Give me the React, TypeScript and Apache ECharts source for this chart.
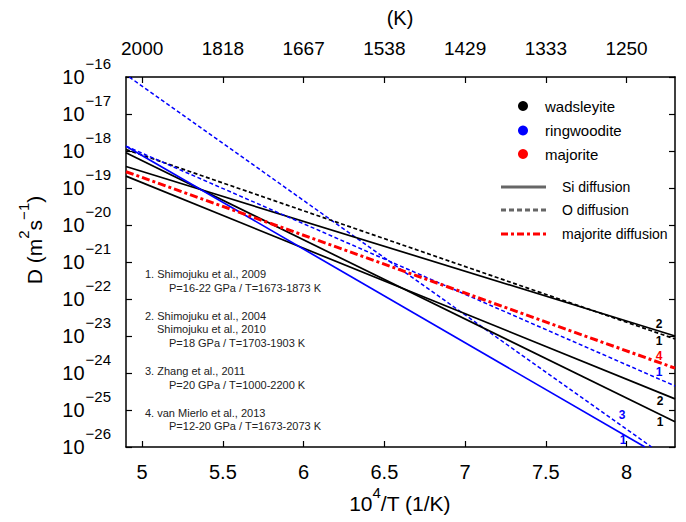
import React, { useEffect, useRef } from "react";
import * as echarts from "echarts";

// x = 10^4/T (1/K); y = log10 D (m^2 s^-1)
const xTicks = [5, 5.5, 6, 6.5, 7, 7.5, 8];
const tempLabels = ["2000", "1818", "1667", "1538", "1429", "1333", "1250"];
const yLabelsEven = [-26, -24, -22, -20, -18, -16];
const yLabelsOdd = [-25, -23, -21, -19, -17];

// each line: [x, log10 D] endpoints
const wadsleyiteO1 = [[4.9, -17.96], [8.3, -23.08]];
const wadsleyiteSi2a = [[4.9, -18.42], [8.3, -23.0]];
const wadsleyiteSi2b = [[4.9, -18.68], [8.3, -24.7]];
const wadsleyiteSi1 = [[4.9, -18.05], [8.3, -25.32]];
const majorite4 = [[4.9, -18.56], [8.3, -23.87]];
const ringwooditeO1 = [[4.9, -17.87], [8.3, -24.35]];
const ringwooditeSi1 = [[4.9, -17.87], [8.114, -26]];
const ringwooditeO3 = [[4.92, -16.0], [8.155, -26]];

const refs = [
  ["1. Shimojuku et al., 2009", 145, 274],
  ["P=16-22 GPa / T=1673-1873 K", 169, 288],
  ["2. Shimojuku et al., 2004", 145, 316],
  ["Shimojuku et al., 2010", 157, 329],
  ["P=18 GPa / T=1703-1903 K", 169, 343],
  ["3. Zhang et al., 2011", 145, 371],
  ["P=20 GPa / T=1000-2200 K", 169, 385],
  ["4. van Mierlo et al., 2013", 145, 413],
  ["P=12-20 GPa / T=1673-2073 K", 169, 426],
];

const lineLabels = [
  ["2", "#000", 659, 324],
  ["1", "#000", 659, 341],
  ["4", "#ff0000", 659, 356],
  ["1", "#0000ff", 659, 372],
  ["2", "#000", 660, 401],
  ["1", "#000", 660, 422],
  ["3", "#0000ff", 622, 415],
  ["1", "#0000ff", 623, 440],
];

const FONT = "Liberation Sans";
const BLUE = "#0000ff";
const RED = "#ff0000";

const measureCtx = typeof document !== "undefined" ? document.createElement("canvas").getContext("2d") : null;
function measure(text: string, size: number) {
  if (!measureCtx) return text.length * size * 0.55;
  measureCtx.font = `${size}px "${FONT}"`;
  return measureCtx.measureText(text).width;
}

// pieces: [text, isSuperscript]
function titleParts(pieces: [string, boolean][], big: number, small: number, raise: number) {
  const widths = pieces.map(([t, sup]) => measure(t, sup ? small : big));
  const total = widths.reduce((a, b) => a + b, 0);
  let x = -total / 2;
  return pieces.map(([t, sup], i) => {
    const el = {
      type: "text",
      x,
      y: sup ? -raise : 0,
      style: { text: t, font: `${sup ? small : big}px "${FONT}"`, fill: "#000", verticalAlign: "middle", align: "left" },
    };
    x += widths[i];
    return el;
  });
}

export default function App() {
  const ref = useRef<HTMLDivElement>(null);
  useEffect(() => {
    const chart = echarts.init(ref.current!, null, { renderer: "svg" });
    const mkLine = (name: string, data: number[][], color: string, type: any, width: number) => ({
      name,
      type: "line",
      data,
      symbol: "none",
      clip: true,
      lineStyle: { color, type, width },
      xAxisIndex: 0,
      yAxisIndex: 0,
    });
    const tickColor = "#000";
    const baseAxis = {
      axisLine: { show: true, onZero: false, lineStyle: { color: tickColor, width: 1.5 } },
      axisTick: { show: true, inside: true, length: 6, lineStyle: { color: tickColor, width: 1.2 } },
      splitLine: { show: false },
    };
    const yLabelBase = {
      margin: 15,
      formatter: (v: number) => `{b|10}{s|−${Math.abs(v)}}`,
      rich: {
        b: { fontSize: 20, fontFamily: FONT, color: "#000", verticalAlign: "middle", lineHeight: 22 },
        s: { fontSize: 15, fontFamily: FONT, color: "#000", verticalAlign: "middle", lineHeight: 16, padding: [0, 0, 28, 1] },
      },
    };
    const option: any = {
      animation: false,
      backgroundColor: "#fff",
      grid: { left: 126, right: 11, top: 77, bottom: 75, containLabel: false },
      xAxis: [
        {
          type: "value",
          position: "bottom",
          min: 4.9,
          max: 8.3,
          ...baseAxis,
          axisTick: { ...baseAxis.axisTick, customValues: xTicks },
          axisLabel: {
            customValues: xTicks,
            fontSize: 20,
            fontFamily: FONT,
            color: "#000",
            margin: 15,
            formatter: (v: number) => String(v),
          },
        },
        {
          type: "value",
          position: "top",
          min: 4.9,
          max: 8.3,
          ...baseAxis,
          axisTick: { ...baseAxis.axisTick, customValues: xTicks },
          axisLabel: {
            customValues: xTicks,
            fontSize: 19,
            fontFamily: FONT,
            color: "#000",
            margin: 19,
            formatter: (v: number) => {
              const i = xTicks.findIndex((t) => Math.abs(t - v) < 1e-6);
              return i >= 0 ? tempLabels[i] : "";
            },
          },
        },
      ],
      yAxis: [
        {
          type: "value",
          position: "left",
          offset: 0,
          min: -26,
          max: -16,
          interval: 1,
          ...baseAxis,
          axisLabel: { ...yLabelBase, customValues: yLabelsEven },
        },
        {
          type: "value",
          position: "right",
          min: -26,
          max: -16,
          interval: 1,
          ...baseAxis,
          axisLabel: { show: false },
        },
        {
          type: "value",
          position: "left",
          offset: 0,
          min: -26,
          max: -16,
          interval: 1,
          axisLine: { show: false },
          axisTick: { show: false },
          splitLine: { show: false },
          axisLabel: { ...yLabelBase, customValues: yLabelsOdd },
        },
      ],
      series: [
        mkLine("ringwoodite O 3", ringwooditeO3, BLUE, [4, 2.5], 1.5),
        mkLine("wadsleyite O 1", wadsleyiteO1, "#000", [4, 2.5], 1.7),
        mkLine("wadsleyite Si 2a", wadsleyiteSi2a, "#000", "solid", 1.7),
        mkLine("wadsleyite Si 2b", wadsleyiteSi2b, "#000", "solid", 1.7),
        mkLine("wadsleyite Si 1", wadsleyiteSi1, "#000", "solid", 1.7),
        mkLine("ringwoodite O 1", ringwooditeO1, BLUE, [4, 2.5], 1.5),
        mkLine("ringwoodite Si 1", ringwooditeSi1, BLUE, "solid", 1.7),
        mkLine("majorite 4", majorite4, RED, [8, 3, 3, 3], 3),
      ],
      graphic: [
        // axis titles
        { type: "text", x: 400, y: 18, style: { text: "(K)", font: `20px "${FONT}"`, fill: "#000", align: "center", verticalAlign: "middle" } },
        {
          type: "group",
          x: 400,
          y: 503,
          children: titleParts([["10", false], ["4", true], ["/T (1/K)", false]], 21, 15, 11),
        },
        {
          type: "group",
          x: 34,
          y: 240,
          rotation: Math.PI / 2,
          children: titleParts([["D (m", false], ["2", true], ["s", false], ["−1", true], [")", false]], 21, 15, 11),
        },
        // legend
        { type: "circle", shape: { cx: 523, cy: 106, r: 5 }, style: { fill: "#000" } },
        { type: "circle", shape: { cx: 523, cy: 130.5, r: 5 }, style: { fill: BLUE } },
        { type: "circle", shape: { cx: 523, cy: 154, r: 5 }, style: { fill: RED } },
        { type: "text", x: 545, y: 106, style: { text: "wadsleyite", font: `15px "${FONT}"`, fill: "#000", verticalAlign: "middle" } },
        { type: "text", x: 545, y: 130.5, style: { text: "ringwoodite", font: `15px "${FONT}"`, fill: "#000", verticalAlign: "middle" } },
        { type: "text", x: 545, y: 154, style: { text: "majorite", font: `15px "${FONT}"`, fill: "#000", verticalAlign: "middle" } },
        { type: "line", shape: { x1: 501, y1: 187, x2: 546, y2: 187 }, style: { stroke: "#666", lineWidth: 3 } },
        { type: "line", shape: { x1: 501, y1: 210, x2: 546, y2: 210 }, style: { stroke: "#666", lineWidth: 3, lineDash: [5, 3] } },
        { type: "line", shape: { x1: 501, y1: 234, x2: 549, y2: 234 }, style: { stroke: RED, lineWidth: 3, lineDash: [7, 3, 3, 3] } },
        { type: "text", x: 562, y: 187, style: { text: "Si diffusion", font: `14px "${FONT}"`, fill: "#000", verticalAlign: "middle" } },
        { type: "text", x: 562, y: 210, style: { text: "O diffusion", font: `14px "${FONT}"`, fill: "#000", verticalAlign: "middle" } },
        { type: "text", x: 562, y: 234, style: { text: "majorite diffusion", font: `14px "${FONT}"`, fill: "#000", verticalAlign: "middle" } },
        // references
        ...refs.map(([t, x, y]) => ({
          type: "text",
          x,
          y,
          style: { text: t, font: `11px "${FONT}"`, fill: "#222", verticalAlign: "middle" },
        })),
        // line labels
        ...lineLabels.map(([t, c, x, y]) => ({
          type: "text",
          x,
          y,
          style: { text: t, font: `bold 12px "${FONT}"`, fill: c, align: "center", verticalAlign: "middle" },
        })),
      ],
    };
    chart.setOption(option);
    return () => chart.dispose();
  }, []);
  return <div ref={ref} style={{ position: "fixed", left: 0, top: 0, width: 686, height: 522 }} />;
}
